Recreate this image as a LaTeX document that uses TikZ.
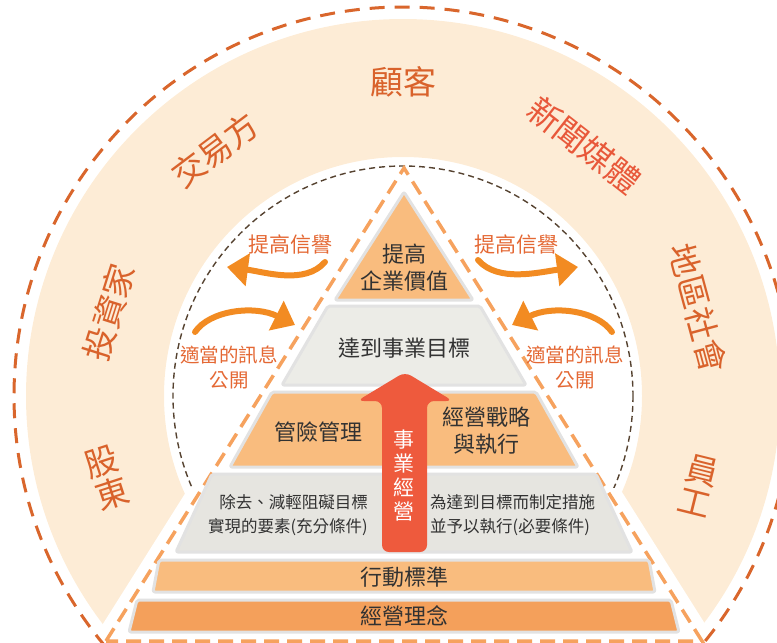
\documentclass[tikz,border=0pt]{standalone}
\usepackage{fontspec}
\setmainfont{Noto Sans CJK TC}
\usetikzlibrary{arrows.meta}
\definecolor{peach}{RGB}{253,236,214}
\definecolor{outerc}{RGB}{217,102,44}
\definecolor{innerc}{RGB}{85,66,48}
\definecolor{pdashc}{RGB}{246,162,94}
\definecolor{layo}{RGB}{249,188,126}
\definecolor{layod}{RGB}{244,160,91}
\definecolor{layg}{RGB}{236,236,231}
\definecolor{laygd}{RGB}{230,229,224}
\definecolor{layb}{RGB}{226,226,226}
\definecolor{redarr}{RGB}{238,90,61}
\definecolor{curvec}{RGB}{242,139,34}
\definecolor{sidec}{RGB}{228,104,52}
\definecolor{ringc}{RGB}{217,98,43}
\definecolor{mediac}{RGB}{232,88,58}
\definecolor{darktext}{RGB}{50,50,50}
\tikzset{
  outerdash/.style={draw=outerc, line width=3pt, dash pattern=on 15pt off 10pt},
  innerdash/.style={draw=innerc, line width=1.4pt, dash pattern=on 6pt off 4pt},
  pdash/.style={draw=pdashc, line width=3.5pt, dash pattern=on 15pt off 8pt},
  layer/.style={draw=layb, line width=3pt, rounded corners=2pt, line join=round},
  ringlbl/.style={text=ringc, font=\fontsize{33}{33}\selectfont, inner sep=0pt, align=center},
  sidelbl/.style={text=sidec, inner sep=0pt, align=center},
  laytext/.style={text=darktext, font=\fontsize{22}{27}\selectfont, align=center, inner sep=0pt},
  smalltext/.style={text=darktext, font=\fontsize{16.5}{24}\selectfont, inner sep=0pt},
  carrow/.style={draw=curvec, line width=6pt, line cap=round, -{Triangle[length=21pt,width=32pt]}},
}
\begin{document}
\begin{tikzpicture}[x=1pt,y=-1pt]
\useasboundingbox (0,0) rectangle (777,643);
\clip (0,0) rectangle (777,643);
\coordinate (C) at (403,396);
% peach ring
\fill[peach, even odd rule] (C) circle[radius=377] (C) circle[radius=239];
% white band around the pyramid
\fill[white] (307,300) -- (501,300) -- (753,700) -- (55,700) -- cycle;
% outer dashed circle
\draw[outerdash] (C) circle[radius=389];
% inner dark dashed circle
\begin{scope}
  \clip (0,0) rectangle (777,487);
  \draw[innerdash] (C) circle[radius=230];
\end{scope}
% pyramid dashed outline
\draw[pdash] (106,641) -- (404,168) -- (702,641) -- cycle;
% layers
\draw[layer, fill=layo] (404,192) -- (473,300) -- (335,300) -- cycle;
\draw[layer, fill=layg] (328,306) -- (480,306) -- (526,385) -- (282,385) -- cycle;
\draw[layer, fill=layo] (272,392) -- (536,392) -- (578,467) -- (230,467) -- cycle;
\draw[layer, fill=laygd] (212,474) -- (596,474) -- (632,552) -- (176,552) -- cycle;
\draw[layer, fill=layo] (159,560) -- (649,560) -- (655,592) -- (153,592) -- cycle;
\draw[layer, fill=layod] (137,600) -- (671,600) -- (679,632) -- (129,632) -- cycle;
% red arrow
\fill[redarr, rounded corners=7pt] (382,552) -- (382,401) -- (357,401) -- (405,372) -- (453,401) -- (427,401) -- (427,552) -- cycle;
\node[text=white, font=\fontsize{21}{24}\selectfont, align=center, inner sep=0pt] (jg) at (404,476) {事\\業\\經\\營};
% layer texts
\node[laytext] (l1) at (404,268) {提高\\企業價值};
\node[laytext] (l2) at (404,348) {達到事業目標};
\node[laytext] (l3a) at (318,432) {管險管理};
\node[laytext] (l3b) at (486,431) {經營戰略\\與執行};
\node[smalltext, align=right, anchor=east] (l4a) at (368,515) {除去、減輕阻礙目標\\實現的要素(充分條件)};
\node[smalltext, align=left, anchor=west] (l4b) at (430,515) {為達到目標而制定措施\\並予以執行(必要條件)};
\node[laytext] (l5) at (404,577) {行動標準};
\node[laytext] (l6) at (404,616) {經營理念};
% side labels
\node[sidelbl, font=\fontsize{21}{26}\selectfont] (tl) at (290,245) {提高信譽};
\node[sidelbl, font=\fontsize{21}{26}\selectfont] (tr) at (516,245) {提高信譽};
\node[sidelbl, font=\fontsize{19.5}{25}\selectfont] (sl) at (229,367) {適當的訊息\\公開};
\node[sidelbl, font=\fontsize{19.5}{25}\selectfont] (sr) at (575,367) {適當的訊息\\公開};
% curved arrows
\coordinate (a1s) at (325,262); \coordinate (a1e) at (227,267);
\coordinate (a2s) at (195,332); \coordinate (a2e) at (295,325);
\coordinate (a3s) at (478,260); \coordinate (a3e) at (578,267);
\coordinate (a4s) at (612,332); \coordinate (a4e) at (512,325);
\draw[carrow] (a1s) .. controls (305,285) and (265,272) .. (a1e);
\draw[carrow] (a2s) .. controls (210,310) and (255,305) .. (a2e);
\draw[carrow] (a3s) .. controls (498,283) and (540,272) .. (a3e);
\draw[carrow] (a4s) .. controls (597,310) and (552,305) .. (a4e);
% ring labels
\node[ringlbl] (gk) at (403,82) {顧客};
\node[ringlbl, rotate=37] (jy) at (215,150) {交易方};
\node[ringlbl, text=mediac, rotate=-38] (xw) at (584,145) {新聞媒體};
\node[ringlbl, rotate=72.5] (tz) at (109,312) {投資家};
\node[ringlbl, rotate=18] (gd) at (107,478) {股\\東};
\node[ringlbl, rotate=-75] (dq) at (698,308) {地區社會};
\node[ringlbl, rotate=-14] (yg) at (699,486) {員\\工};
\end{tikzpicture}
\end{document}
